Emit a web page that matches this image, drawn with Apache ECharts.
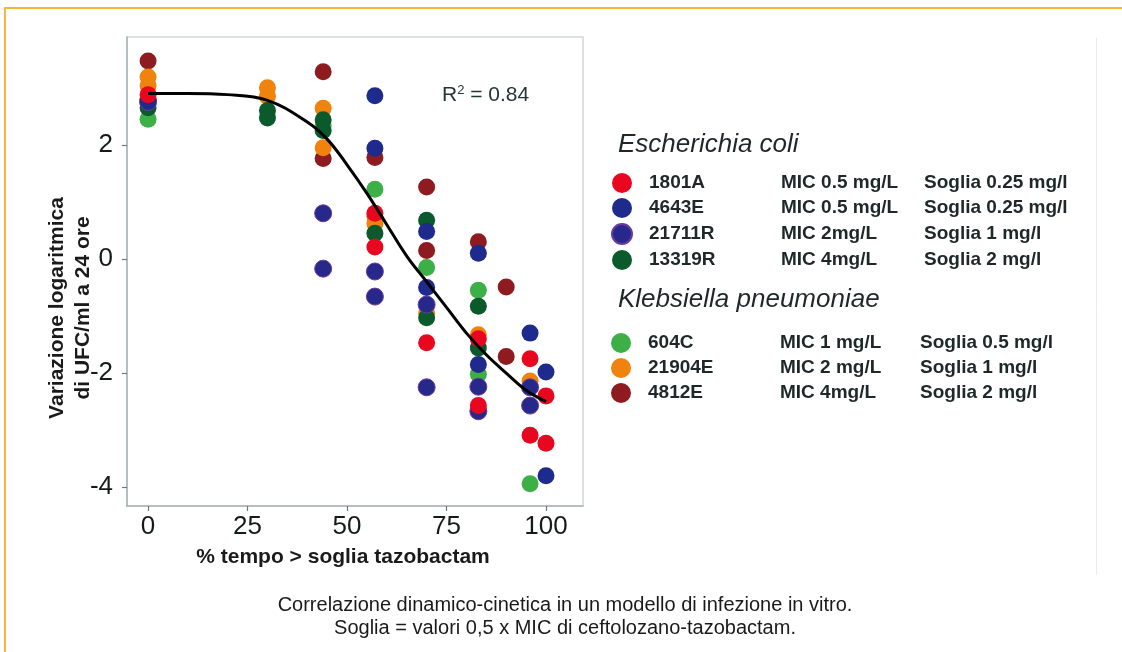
<!DOCTYPE html>
<html>
<head>
<meta charset="utf-8">
<style>
html,body{margin:0;padding:0;background:#fff;}
#c{width:1122px;height:652px;}
</style>
<script src="https://cdn.jsdelivr.net/npm/echarts@6/dist/echarts.min.js"></script>
</head>
<body>
<div id="c"></div>
<script>
// ---------- DATA ----------
const strains = ['1801A', '4643E', '21711R', '13319R', '604C', '21904E', '4812E'];
const micLabels = ['MIC 0.5 mg/L', 'MIC 0.5 mg/L', 'MIC 2mg/L', 'MIC 4mg/L', 'MIC 1 mg/L', 'MIC 2 mg/L', 'MIC 4mg/L'];
const sogliaLabels = ['Soglia 0.25 mg/l', 'Soglia 0.25 mg/l', 'Soglia 1 mg/l', 'Soglia 2 mg/l', 'Soglia 0.5 mg/l', 'Soglia 1 mg/l', 'Soglia 2 mg/l'];
const ecoliStrains = ['1801A', '4643E', '21711R', '13319R'];
const kpStrains = ['604C', '21904E', '4812E'];

const x1801A = [0, 57, 57, 70, 83, 83, 96, 96, 100, 100];
const y1801A = [2.88, 0.8, 0.21, -1.47, -1.4, -2.57, -1.75, -3.09, -2.4, -3.23];

const x4643E = [0, 57, 57, 70, 70, 83, 83, 96, 100, 100];
const y4643E = [2.8, 2.86, 1.94, 0.48, -0.5, 0.1, -1.85, -1.3, -1.98, -3.8];

const x21711R = [0, 44, 44, 57, 57, 70, 70, 83, 83, 96, 96];
const y21711R = [2.75, 0.8, -0.17, -0.22, -0.66, -0.8, -2.25, -2.24, -2.67, -2.25, -2.57];

const x13319R = [0, 30, 30, 44, 44, 57, 70, 70, 83, 83];
const y13319R = [2.65, 2.6, 2.47, 2.44, 2.25, 0.45, 0.68, -1.03, -0.83, -1.56];

const x604C = [0, 44, 57, 70, 83, 83, 96];
const y604C = [2.45, 2.34, 1.22, -0.15, -0.55, -2.02, -3.94];

const x21904E = [0, 0, 30, 30, 44, 44, 57, 57, 70, 83, 96];
const y21904E = [3.19, 3.04, 3.0, 2.85, 2.64, 1.95, 0.75, 0.62, -0.95, -1.33, -2.14];

const x4812E = [0, 44, 44, 57, 70, 70, 83, 90, 90];
const y4812E = [3.47, 3.28, 1.76, 1.78, 1.26, 0.15, 0.3, -0.49, -1.71];

// fitted curve
const curveX = [0, 10, 20, 30, 40, 45, 50, 55, 60, 65, 70, 75, 80, 85, 90, 95, 100];
const curveY = [2.9, 2.9, 2.88, 2.78, 2.4, 2.1, 1.65, 1.15, 0.6, 0.05, -0.4, -0.85, -1.3, -1.68, -2.0, -2.3, -2.5];

const xTicks = [0, 25, 50, 75, 100];
const yTicks = [-4, -2, 0, 2];

const r2Text = '0.84';
const xName = '% tempo > soglia tazobactam';
const yName = 'Variazione logaritmica\ndi UFC/ml a 24 ore';
const caption1 = 'Correlazione dinamico-cinetica in un modello di infezione in vitro.';
const caption2 = 'Soglia = valori 0,5 x MIC di ceftolozano-tazobactam.';

// ---------- STYLE ----------
const colors = {
  '1801A': '#e8071f',
  '4643E': '#1e2a8c',
  '21711R': '#27298a',
  '13319R': '#0a5a2c',
  '604C': '#3daf47',
  '21904E': '#f0820e',
  '4812E': '#8e1b20'
};
const xsBy = {'1801A': x1801A, '4643E': x4643E, '21711R': x21711R, '13319R': x13319R, '604C': x604C, '21904E': x21904E, '4812E': x4812E};
const ysBy = {'1801A': y1801A, '4643E': y4643E, '21711R': y21711R, '13319R': y13319R, '604C': y604C, '21904E': y21904E, '4812E': y4812E};

const FONT = "'Liberation Sans', Arial, sans-serif";
const drawOrder = ['4812E', '21904E', '604C', '13319R', '21711R', '4643E', '1801A'];

const series = drawOrder.map(name => ({
  name: name,
  type: 'scatter',
  symbol: 'circle',
  symbolSize: 17,
  itemStyle: {
    color: colors[name],
    opacity: 1,
    borderColor: name === '21711R' ? '#6a3aa0' : colors[name],
    borderWidth: name === '21711R' ? 1 : 0
  },
  data: xsBy[name].map((x, i) => [x, ysBy[name][i]]),
  z: 2
}));
series.push({
  name: 'fit',
  type: 'line',
  data: curveX.map((x, i) => [x, curveY[i]]),
  smooth: 0.4,
  symbol: 'none',
  lineStyle: {color: '#000', width: 3},
  z: 5,
  silent: true
});

function legendFormatter() {
  return function (name) {
    const i = strains.indexOf(name);
    return '{n|' + name + '}{m|' + micLabels[i] + '}{s|' + sogliaLabels[i] + '}';
  };
}
const legendText = function (micW) {
  const base = {fontSize: 19, fontWeight: 'bold', fontFamily: FONT, color: '#1f2828'};
  return Object.assign({}, base, {
    rich: {
      n: Object.assign({width: 132, padding: [0, 0, 0, 12]}, base),
      m: Object.assign({width: micW}, base),
      s: Object.assign({}, base)
    }
  });
};

const chart = echarts.init(document.getElementById('c'), null, {renderer: 'canvas'});
chart.setOption({
  backgroundColor: '#fff',
  animation: false,
  grid: {
    left: 127, top: 37, width: 456, height: 469,
    show: true, borderColor: '#d3d7d9', borderWidth: 1.5, backgroundColor: 'transparent'
  },
  xAxis: {
    type: 'value', min: -5.3, max: 109.3,
    splitLine: {show: false},
    axisLine: {show: true, onZero: false, lineStyle: {color: '#aab2b6', width: 1.5}},
    axisTick: {show: true, length: 5, customValues: xTicks, lineStyle: {color: '#6f787c', width: 1.2}},
    axisLabel: {customValues: xTicks, fontSize: 26, color: '#161a1a', fontFamily: FONT, margin: 8}
  },
  yAxis: {
    type: 'value', min: -4.33, max: 3.89,
    splitLine: {show: false},
    axisLine: {show: true, onZero: false, lineStyle: {color: '#aab2b6', width: 1.5}},
    axisTick: {show: true, length: 5, customValues: yTicks, lineStyle: {color: '#6f787c', width: 1.2}},
    axisLabel: {customValues: yTicks, fontSize: 26, color: '#161a1a', fontFamily: FONT, margin: 14}
  },
  legend: [
    {
      data: ecoliStrains, orient: 'vertical', left: 611, top: 173, padding: 0,
      icon: 'circle', itemWidth: 20, itemHeight: 20, itemGap: 5,
      selectedMode: false,
      formatter: legendFormatter(),
      textStyle: legendText(143)
    },
    {
      data: kpStrains, orient: 'vertical', left: 611, top: 333, padding: 0,
      icon: 'circle', itemWidth: 20, itemHeight: 20, itemGap: 5,
      selectedMode: false,
      formatter: legendFormatter(),
      textStyle: legendText(140)
    }
  ],
  graphic: [
    // frame
    {type: 'line', shape: {x1: 4, y1: 8, x2: 1122, y2: 8}, style: {stroke: '#f9b43a', lineWidth: 2}},
    {type: 'line', shape: {x1: 5, y1: 8, x2: 5, y2: 652}, style: {stroke: '#f9b43a', lineWidth: 2}},
    {type: 'line', shape: {x1: 1096.5, y1: 38, x2: 1096.5, y2: 575}, style: {stroke: '#ececec', lineWidth: 1}},
    // axis names
    {type: 'text', x: 70, y: 308, rotation: Math.PI / 2,
     style: {text: yName, align: 'center', verticalAlign: 'middle', font: 'bold 21px ' + FONT, lineHeight: 26, fill: '#1a1a1a'}},
    {type: 'text', x: 343, y: 557,
     style: {text: xName, align: 'center', verticalAlign: 'middle', font: 'bold 21px ' + FONT, fill: '#1a1a1a'}},
    // R^2
    {type: 'text', x: 442, y: 95,
     style: {
       text: '{a|R}{b|2}{a| = ' + r2Text + '}', verticalAlign: 'middle', align: 'left',
       rich: {
         a: {fontSize: 21, fontFamily: FONT, fill: '#263434', fontWeight: 'normal'},
         b: {fontSize: 13, fontFamily: FONT, fill: '#263434', verticalAlign: 'top', padding: [0, 0, 9, 0]}
       }
     }},
    // group titles
    {type: 'text', x: 618, y: 145,
     style: {text: 'Escherichia coli', align: 'left', verticalAlign: 'middle', font: 'italic 26px ' + FONT, fill: '#1f2828'}},
    {type: 'text', x: 618, y: 300,
     style: {text: 'Klebsiella pneumoniae', align: 'left', verticalAlign: 'middle', font: 'italic 26px ' + FONT, fill: '#1f2828'}},
    // caption
    {type: 'text', x: 565, y: 605,
     style: {text: caption1, align: 'center', verticalAlign: 'middle', font: '20px ' + FONT, fill: '#1a1a1a'}},
    {type: 'text', x: 565, y: 628,
     style: {text: caption2, align: 'center', verticalAlign: 'middle', font: '20px ' + FONT, fill: '#1a1a1a'}}
  ],
  series: series
});
</script>
</body>
</html>
